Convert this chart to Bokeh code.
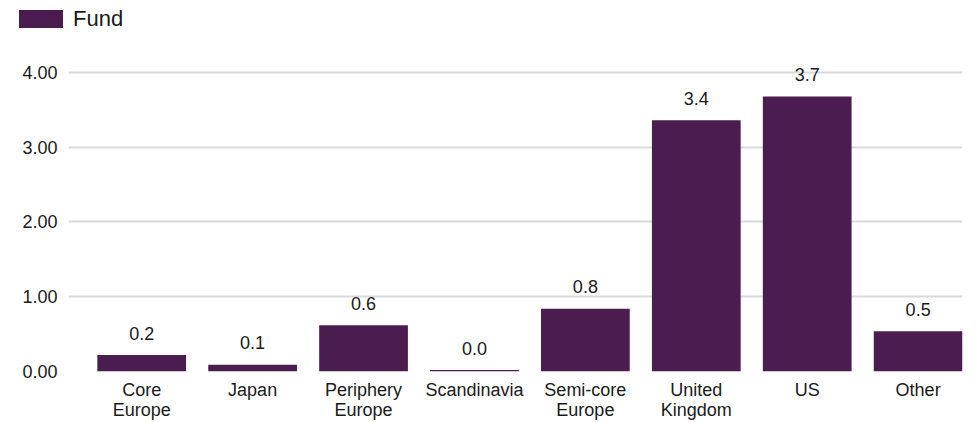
from bokeh.plotting import figure
from bokeh.layouts import column
from bokeh.models import ColumnDataSource, Range1d, FixedTicker, NumeralTickFormatter, Div
from bokeh.core.properties import value
from bokeh.embed import file_html
from bokeh.resources import INLINE

categories = ["Core\nEurope", "Japan", "Periphery\nEurope", "Scandinavia",
              "Semi-core\nEurope", "United\nKingdom", "US", "Other"]
fund = [0.22, 0.09, 0.62, 0.02, 0.84, 3.36, 3.68, 0.54]
y_ticks = [0, 1, 2, 3, 4]
series_name = "Fund"

BAR = "#4B1C50"
FONT = "Liberation Sans"
TXT = "#1a1a1a"

xs = list(range(len(categories)))
src = ColumnDataSource(dict(x=xs, top=fund, label=[f"{v:.1f}" for v in fund]))

# ---- legend strip (HTML) ----
legend_html = (
    f'<div style="display:flex;align-items:center;height:18px;">'
    f'<span style="display:inline-block;width:44px;height:18px;background:{BAR};margin-right:10px;"></span>'
    f'<span style="font-family:\'{FONT}\';font-size:22px;color:{TXT};line-height:22px;">{series_name}</span>'
    f'</div>'
)
lg = Div(text=legend_html, width=975, height=40,
         styles={"padding-left": "19px", "padding-top": "10px", "box-sizing": "border-box", "margin": "0"})

# ---- main chart ----
p = figure(width=975, height=382, output_backend="svg", toolbar_location=None,
           x_range=Range1d(-0.66, 7.40), y_range=Range1d(0, 4.16),
           min_border_left=68, min_border_right=13, min_border_top=20, min_border_bottom=50)
p.outline_line_color = None
p.background_fill_color = "white"

p.vbar(x="x", top="top", width=0.8, bottom=0, source=src, fill_color=BAR, line_color=None)
p.text(x="x", y="top", text="label", source=src, y_offset=-22,
       text_align="center", text_baseline="middle", text_font=value(FONT),
       text_font_size="18px", text_color=TXT)

p.xaxis.ticker = FixedTicker(ticks=xs)
p.xaxis.major_label_overrides = {i: c for i, c in zip(xs, categories)}
p.xaxis.axis_line_color = None
p.xaxis.major_tick_line_color = None
p.xaxis.minor_tick_line_color = None
p.xaxis.major_label_standoff = 2
p.xaxis.major_label_text_font = FONT
p.xaxis.major_label_text_font_size = "18px"
p.xaxis.major_label_text_line_height = 1.0
p.xaxis.major_label_text_color = TXT

p.yaxis.ticker = FixedTicker(ticks=y_ticks)
p.yaxis.formatter = NumeralTickFormatter(format="0.00")
p.yaxis.axis_line_color = None
p.yaxis.major_tick_line_color = None
p.yaxis.minor_tick_line_color = None
p.yaxis.major_label_standoff = 5
p.yaxis.major_label_text_font = FONT
p.yaxis.major_label_text_font_size = "18px"
p.yaxis.major_label_text_color = TXT

p.xgrid.grid_line_color = None
p.ygrid.ticker = FixedTicker(ticks=y_ticks)
p.ygrid.grid_line_color = "#d9d9d9"
p.ygrid.grid_line_width = 2

layout = column(lg, p, spacing=0)
open("out.html", "w").write(file_html(layout, INLINE))
